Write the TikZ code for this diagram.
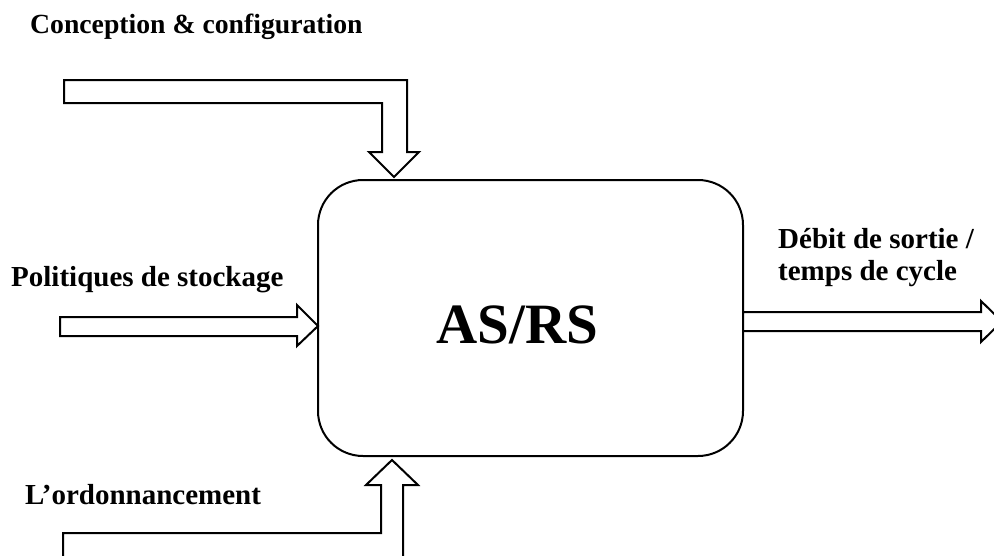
\documentclass[tikz,border=0pt]{standalone}
\usepackage{fontspec}
\setmainfont{Liberation Serif}
\usepackage{tikz}

\tikzset{
  blockarrow/.style={draw, line width=2pt, fill=white, line join=miter},
  lbl/.style={anchor=base west, inner sep=0pt, font=\fontsize{29}{32}\selectfont\bfseries}
}

\begin{document}
\begin{tikzpicture}[x=1pt,y=-1pt]
  \clip (0,0) rectangle (994,555);
  \fill[white] (0,0) rectangle (994,555);
  \node[draw, line width=2pt, rounded corners=45pt, minimum width=425pt, minimum height=276pt] (asrs) at (530.5,318) {};
  \node[inner sep=0pt, font=\fontsize{57}{60}\selectfont\bfseries] (asrstext) at (517.5,325) {AS/RS};
  \draw[blockarrow] (64,80) -- (407,80) -- (407,152) -- (419,152) -- (394,177) -- (369,152) -- (382,152) -- (382,103) -- (64,103) -- cycle;
  \draw[blockarrow] (60,317) -- (297,317) -- (297,305) -- (318,326) -- (297,346) -- (297,336) -- (60,336) -- cycle;
  \draw[blockarrow] (743,312) -- (981,312) -- (981,301) -- (1002,321.5) -- (981,342) -- (981,331) -- (743,331) -- cycle;
  \draw[blockarrow] (63,533) -- (381,533) -- (381,485) -- (366,485) -- (392,460) -- (418,485) -- (403,485) -- (403,557) -- (63,557) -- cycle;
  \node[lbl, font=\fontsize{27.7}{32}\selectfont\bfseries] (conception) at (30,33) {Conception \& configuration};
  \node[lbl] (politiques) at (11,286) {Politiques de stockage};
  \node[lbl, align=left] (debit) at (778,280) {Débit de sortie /\\temps de cycle};
  \node[lbl] (ordo) at (25,504) {L’ordonnancement};
\end{tikzpicture}
\end{document}
